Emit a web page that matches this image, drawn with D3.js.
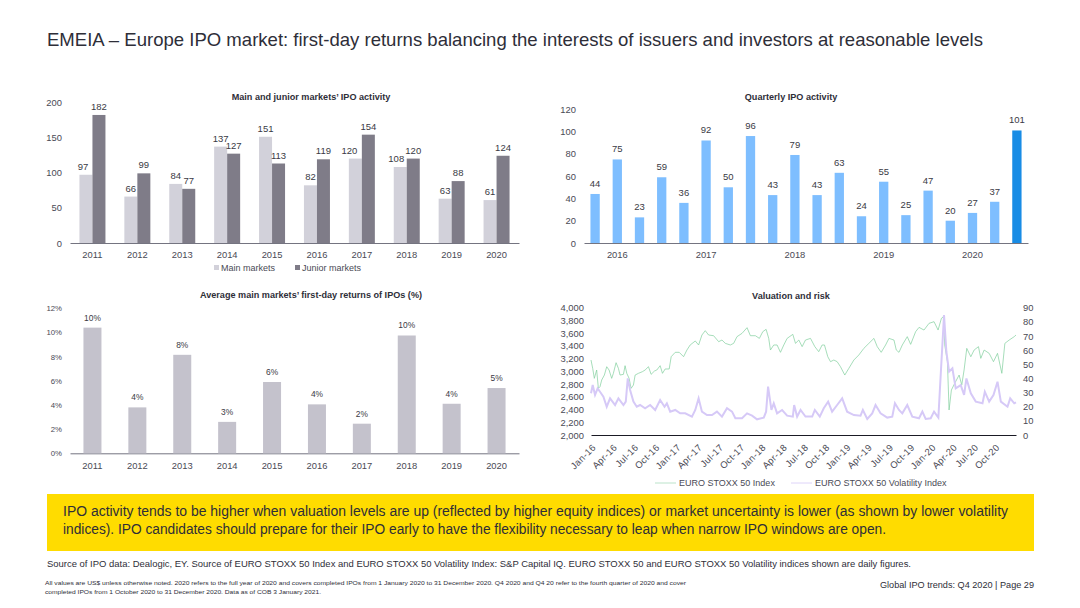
<!DOCTYPE html>
<html>
<head>
<meta charset="utf-8">
<script src="https://cdn.jsdelivr.net/npm/d3@7"></script>
<style>
  html, body { margin: 0; padding: 0; background: #fff; }
  text { font-family: "Liberation Sans", Arial, sans-serif; fill: #2e2e38; }
  .tick text { font-size: 9.4px; fill: #4a4a55; }
  .lab { font-size: 9.5px; fill: #3a3a44; text-anchor: middle; }
  .ttl { font-size: 9.1px; font-weight: bold; text-anchor: middle; }
  .leg { font-size: 9px; fill: #4a4a55; }
</style>
</head>
<body>
<div id="slide"></div>
<script>
var years = ["2011","2012","2013","2014","2015","2016","2017","2018","2019","2020"];
var mainMarkets = [97,66,84,137,151,82,120,108,63,61];
var juniorMarkets = [182,99,77,127,113,119,154,120,88,124];

var quarters = ["Q1 16","Q2 16","Q3 16","Q4 16","Q1 17","Q2 17","Q3 17","Q4 17","Q1 18","Q2 18","Q3 18","Q4 18","Q1 19","Q2 19","Q3 19","Q4 19","Q1 20","Q2 20","Q3 20","Q4 20"];
var quarterly = [44,75,23,59,36,92,50,96,43,79,43,63,24,55,25,47,20,27,37,101];
var quarterTicks = ["Q2 16","Q2 17","Q2 18","Q2 19","Q2 20"];
var quarterTickLabels = ["2016","2017","2018","2019","2020"];

var firstDay = [10.4,3.8,8.15,2.6,5.9,4.05,2.45,9.75,4.1,5.4];

// months since Jan-16
var dateLabels = ["Jan-16","Apr-16","Jul-16","Oct-16","Jan-17","Apr-17","Jul-17","Oct-17","Jan-18","Apr-18","Jul-18","Oct-18","Jan-19","Apr-19","Jul-19","Oct-19","Jan-20","Apr-20","Jul-20","Oct-20"];
var indexMonths = [0,.24,.47,.8,1.04,1.27,1.51,1.89,2.22,2.55,2.92,3.16,3.54,3.87,4.1,4.58,4.81,5.05,5.38,5.66,5.99,6.23,6.7,7.26,7.64,8.11,8.49,8.96,9.29,9.76,10.09,10.47,11.04,11.32,11.89,12.45,13.07,13.54,14,14.72,15.19,15.66,16.13,16.6,17.31,18.02,18.49,18.96,19.67,20.14,20.61,21.32,22.03,22.5,23.21,23.77,24.25,24.72,25.09,25.33,25.8,26.27,26.75,27.22,27.69,28.49,28.87,29.34,29.81,30.28,30.99,31.6,32.15,32.63,32.96,33.43,33.81,34.28,34.75,35.22,35.83,36.4,37.11,37.81,38.52,39.23,39.94,40.41,40.97,41.59,42.06,42.77,43.1,43.48,43.95,44.65,45.13,45.83,46.31,47.01,47.72,48.43,49,49.47,49.75,49.94,50.32,50.55,50.88,51.35,51.97,52.34,52.67,53.05,53.62,54.09,54.7,55.03,55.5,56.21,56.82,57.39,58,58.43,59.04,59.75,60];
var indexValues = [3178,3047,2890,3021,2733,2759,2864,2942,3073,3021,2890,2969,3136,3047,2942,2953,3089,2969,2890,2733,2785,2942,2969,2995,3021,3073,2953,3005,3021,3089,2969,3037,3037,3230,3299,3299,3230,3335,3414,3477,3414,3571,3639,3571,3560,3466,3492,3440,3414,3440,3545,3597,3686,3560,3560,3518,3623,3660,3518,3335,3414,3414,3299,3414,3518,3581,3440,3492,3388,3492,3518,3388,3309,3414,3414,3230,3152,3178,3152,3073,2942,3047,3178,3257,3361,3440,3518,3388,3299,3414,3518,3492,3335,3299,3414,3545,3424,3623,3691,3649,3754,3780,3649,3833,3859,3414,3152,2393,2707,2812,2942,2785,3021,3361,3230,3335,3388,3204,3335,3283,3152,3283,2969,3440,3492,3545,3571];
var volMonths = [0,.24,.57,.94,1.27,1.75,2.22,2.69,3.4,3.87,4.58,4.91,5.19,5.52,5.99,6.46,6.93,7.64,8.35,9.06,9.76,10.38,10.71,11.18,11.89,12.59,13.3,14.25,14.72,15.19,15.66,16.37,17.08,17.78,18.49,19.2,19.91,20.38,21.32,22.03,22.74,23.44,24.39,24.72,25,25.47,25.8,26.27,26.98,27.69,28.49,28.68,29.1,29.58,30.28,31.23,31.6,32.3,32.86,33.48,34.04,34.75,35.46,36.16,37.11,38.05,38.38,39,39.7,40.17,40.88,41.82,42.53,42.91,43.48,43.95,44.65,45.36,46.31,46.78,47.25,47.96,48.43,49.04,49.37,49.84,50.17,50.55,51.02,51.49,52.2,52.67,53,53.62,54.32,55.27,55.6,56.21,56.82,57.39,57.86,58.8,59.18,59.75,60];
var volValues = [29.5,35.3,28.3,33,30.6,27.1,20,25.9,21.2,25.9,21.2,23.6,40,31.8,23.6,20,21.2,18.9,21.2,17.7,24.7,20,22.4,16.5,17.7,15.3,15.3,13,17.7,25.9,16.5,14.1,14.1,16.5,13,18.9,16.5,11.8,11.8,15.3,13.7,11.1,12.3,16.5,34.2,17.7,22.4,15.3,17.7,13.7,13,21.2,13,17.7,13,13,17.7,13,18.9,23.6,16.5,21.2,25.9,16.5,14.1,13.7,17.7,11.3,15.3,21.2,15.3,12.3,13,22.4,17.7,15.3,21.2,13,11.8,16.5,11.3,11.8,16.5,12.3,42.4,84.8,58.9,44.8,47.1,33,35.3,28.3,40,29.5,23.6,22.4,30.6,23.6,28.3,37.7,23.6,20,25.9,22.4,23.1];
var leftTicks = [2000,2200,2400,2600,2800,3000,3200,3400,3600,3800,4000];
var rightTicks = [0,10,20,30,40,50,60,70,80,90];

var svg = d3.select("#slide").append("svg").attr("width", 1080).attr("height", 608).style("display", "block");

function addText(x, y, str, size, len) {
  var t = svg.append("text").attr("x", x).attr("y", y).attr("font-size", size).text(str);
  if (len) t.attr("textLength", len).attr("lengthAdjust", "spacingAndGlyphs");
  return t;
}

// shared frame for the bar charts
function barFrame(left, right, top, bottom, cats, yMax, yTicks, yFmt, tickVals, tickLabels, pad) {
  var x = d3.scaleBand().domain(cats).range([left, right]);
  var y = d3.scaleLinear().domain([0, yMax]).range([bottom, top]);
  var xAxis = d3.axisBottom(x).tickSize(0).tickPadding(pad);
  if (tickVals) xAxis.tickValues(tickVals).tickFormat(function(d, i) { return tickLabels[i]; });
  var gx = svg.append("g").attr("transform", "translate(0," + bottom + ")").call(xAxis);
  gx.select(".domain").attr("stroke", "#747480");
  var gy = svg.append("g").attr("transform", "translate(" + (left - 1) + ",0)")
    .call(d3.axisLeft(y).tickValues(yTicks).tickSize(0).tickPadding(7).tickFormat(yFmt));
  gy.select(".domain").remove();
  return {x: x, y: y, gy: gy};
}

function barLabels(data, xPos, y, gap, fmt, size) {
  svg.append("g").selectAll("text").data(data).enter().append("text")
    .attr("class", "lab")
    .attr("x", function(d, i) { return xPos(i); })
    .attr("y", function(d) { return y(d) - gap; })
    .style("font-size", size)
    .text(fmt);
}

// main and junior
var c1 = barFrame(70, 519, 102.3, 243, years, 200, [0,50,100,150,200], d3.format("d"), null, null, 8);
var bw1 = 13;
var mainNudge = {0: -3, 6: -6, 7: -4}; // these labels sit left of their bars
var series1 = [[mainMarkets, "#d2d1da", -bw1], [juniorMarkets, "#7f7c88", 0]];
series1.forEach(function(s) {
  svg.append("g").selectAll("rect").data(s[0]).enter().append("rect")
    .attr("x", function(d, i) { return c1.x(years[i]) + c1.x.bandwidth() / 2 + s[2]; })
    .attr("y", function(d) { return c1.y(d); })
    .attr("width", bw1)
    .attr("height", function(d) { return c1.y(0) - c1.y(d); })
    .attr("fill", s[1]);
});
series1.forEach(function(s, n) {
  barLabels(s[0], function(i) {
    return c1.x(years[i]) + c1.x.bandwidth() / 2 + s[2] + bw1 / 2 + (n == 0 ? (mainNudge[i] || 0) : 0);
  }, c1.y, 5, function(d) { return d; });
});
svg.append("text").attr("class", "ttl").attr("x", 311).attr("y", 100).text("Main and junior markets\u2019 IPO activity");
svg.append("rect").attr("x", 214).attr("y", 265).attr("width", 5).attr("height", 5).attr("fill", "#d2d1da");
svg.append("text").attr("class", "leg").attr("x", 221).attr("y", 271).text("Main markets");
svg.append("rect").attr("x", 295).attr("y", 265).attr("width", 5).attr("height", 5).attr("fill", "#7f7c88");
svg.append("text").attr("class", "leg").attr("x", 302).attr("y", 271).text("Junior markets");

// quarterly
var c2 = barFrame(584, 1028, 109.3, 243, quarters, 120, [0,20,40,60,80,100,120], d3.format("d"), quarterTicks, quarterTickLabels, 8);
var bw2 = 9.3;
svg.append("g").selectAll("rect").data(quarterly).enter().append("rect")
  .attr("x", function(d, i) { return c2.x(quarters[i]) + (c2.x.bandwidth() - bw2) / 2; })
  .attr("y", function(d) { return c2.y(d); })
  .attr("width", bw2)
  .attr("height", function(d) { return c2.y(0) - c2.y(d); })
  .attr("fill", function(d, i) { return i == quarters.length - 1 ? "#188ce5" : "#7ebeff"; });
barLabels(quarterly, function(i) { return c2.x(quarters[i]) + c2.x.bandwidth() / 2; }, c2.y, 7, function(d) { return d; });
svg.append("text").attr("class", "ttl").attr("x", 791).attr("y", 100).text("Quarterly IPO activity");

// first-day returns
var c3 = barFrame(70, 519, 308.3, 453.3, years, 12, [0,2,4,6,8,10,12], function(d) { return d + "%"; }, null, null, 9);
c3.gy.selectAll("text").style("font-size", "7.8px");
var bw3 = 18;
svg.append("g").selectAll("rect").data(firstDay).enter().append("rect")
  .attr("x", function(d, i) { return c3.x(years[i]) + (c3.x.bandwidth() - bw3) / 2; })
  .attr("y", function(d) { return c3.y(d); })
  .attr("width", bw3)
  .attr("height", function(d) { return c3.y(0) - c3.y(d); })
  .attr("fill", "#c4c2cc");
barLabels(firstDay, function(i) { return c3.x(years[i]) + c3.x.bandwidth() / 2; }, c3.y, 7, function(d) { return Math.round(d) + "%"; }, "8.4px");
svg.append("text").attr("class", "ttl").attr("x", 311).attr("y", 298).text("Average main markets\u2019 first-day returns of IPOs (%)");

// valuation and risk
var xM = d3.scaleLinear().domain([0, 60]).range([591, 1016]);
var yL = d3.scaleLinear().domain([2000, 4000]).range([435, 307.7]);
var yR = d3.scaleLinear().domain([0, 90]).range([435, 307.7]);

var gL = svg.append("g").attr("transform", "translate(591,0)")
  .call(d3.axisLeft(yL).tickValues(leftTicks).tickSize(0).tickPadding(7).tickFormat(d3.format(",")));
gL.select(".domain").remove();
var gR = svg.append("g").attr("transform", "translate(1016,0)")
  .call(d3.axisRight(yR).tickValues(rightTicks).tickSize(0).tickPadding(7));
gR.select(".domain").remove();
var gX = svg.append("g").attr("transform", "translate(0,435)")
  .call(d3.axisBottom(xM).tickValues(d3.range(dateLabels.length).map(function(i) { return i * 3; })).tickSize(0)
    .tickFormat(function(d, i) { return dateLabels[i]; }));
gX.select(".domain").attr("stroke", "#1a1a24");
gX.selectAll("text")
  .attr("text-anchor", "end").attr("x", 0).attr("y", 0).attr("dy", 0)
  .attr("transform", "translate(5,13) rotate(-45)")
  .style("letter-spacing", "0.4px");

var volLine = d3.line().x(function(d, i) { return xM(volMonths[i]); }).y(function(d) { return yR(d); });
var idxLine = d3.line().x(function(d, i) { return xM(indexMonths[i]); }).y(function(d) { return yL(d); });
svg.append("path").attr("d", idxLine(indexValues)).attr("fill", "none").attr("stroke", "#7fcf9c").attr("stroke-width", 0.7);
svg.append("path").attr("d", volLine(volValues)).attr("fill", "none").attr("stroke", "#d6c9f7").attr("stroke-width", 2);
svg.append("text").attr("class", "ttl").attr("x", 791).attr("y", 299).text("Valuation and risk");

svg.append("line").attr("x1", 655).attr("x2", 676).attr("y1", 483).attr("y2", 483).attr("stroke", "#a9dcbc").attr("stroke-width", 0.8);
svg.append("text").attr("class", "leg").attr("x", 679).attr("y", 486).text("EURO STOXX 50 Index");
svg.append("line").attr("x1", 791).attr("x2", 812).attr("y1", 483).attr("y2", 483).attr("stroke", "#d6c9f7").attr("stroke-width", 0.8);
svg.append("text").attr("class", "leg").attr("x", 815).attr("y", 486).text("EURO STOXX 50 Volatility Index");

// slide text
addText(47, 46, "EMEIA \u2013 Europe IPO market: first-day returns balancing the interests of issuers and investors at reasonable levels", 18.4, 936);
svg.append("rect").attr("x", 47).attr("y", 494).attr("width", 987).attr("height", 57).attr("fill", "#ffdc00");
addText(63, 516, "IPO activity tends to be higher when valuation levels are up (reflected by higher equity indices) or market uncertainty is lower (as shown by lower volatility", 14, 945);
addText(63, 534, "indices). IPO candidates should prepare for their IPO early to have the flexibility necessary to leap when narrow IPO windows are open.", 14, 823);
addText(47, 567, "Source of IPO data: Dealogic, EY. Source of EURO STOXX 50 Index and EURO STOXX 50 Volatility Index: S&P Capital IQ. EURO STOXX 50 and EURO STOXX 50 Volatility indices shown are daily figures.", 9.2, 864);
addText(45, 585, "All values are US$ unless otherwise noted. 2020 refers to the full year of 2020 and covers completed IPOs from 1 January 2020 to 31 December 2020. Q4 2020 and Q4 20 refer to the fourth quarter of 2020 and cover", 6, 641);
addText(45, 594, "completed IPOs from 1 October 2020 to 31 December 2020. Data as of COB 3 January 2021.", 6, 276);
addText(880, 588, "Global IPO trends: Q4 2020  |  Page 29", 9, 154);
</script>
</body>
</html>
